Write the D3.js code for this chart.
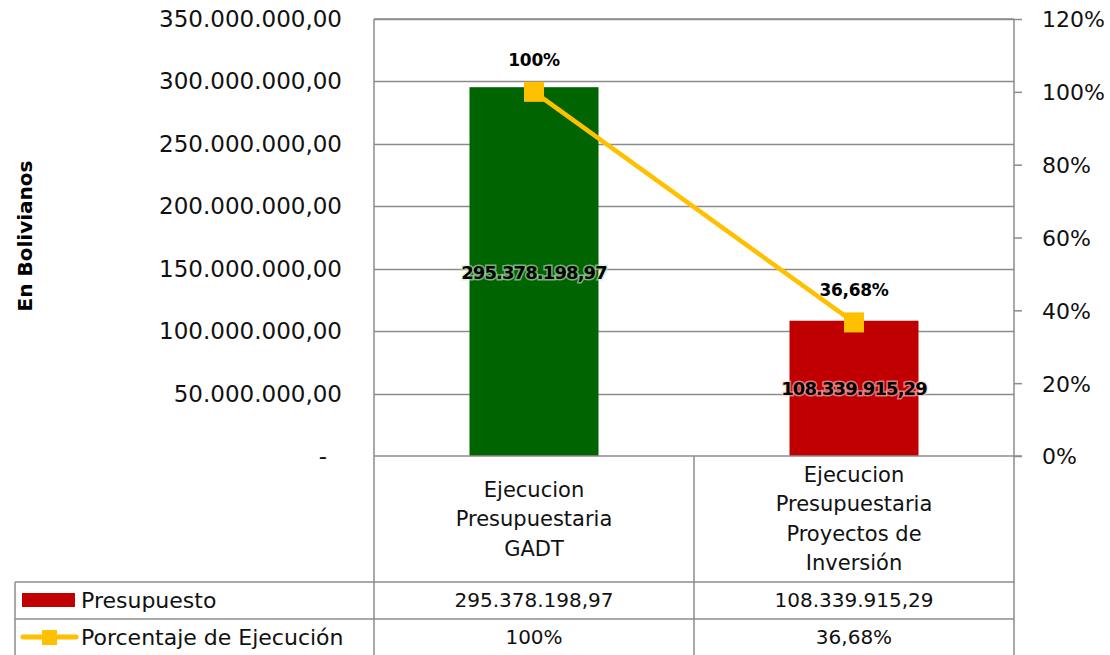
<!DOCTYPE html>
<html><head><meta charset="utf-8">
<script src="https://cdn.jsdelivr.net/npm/d3@7"></script>
<style>body{margin:0;background:#fff}svg{display:block}text{font-family:"DejaVu Sans",sans-serif}</style>
</head><body><svg id="c" width="1110" height="655"></svg>
<script>
const categories = [["Ejecucion","Presupuestaria","GADT"],["Ejecucion","Presupuestaria","Proyectos de","Inversión"]];
const presupuesto = [295378198.97, 108339915.29];
const presupuestoLabels = ["295.378.198,97","108.339.915,29"];
const porcentaje = [100, 36.68];
const porcentajeLabels = ["100%","36,68%"];
const leftTicks = [0,50e6,100e6,150e6,200e6,250e6,300e6,350e6];
const leftTickLabels = ["-","50.000.000,00","100.000.000,00","150.000.000,00","200.000.000,00","250.000.000,00","300.000.000,00","350.000.000,00"];
const rightTicks = [0,20,40,60,80,100,120];
const seriesNames = ["Presupuesto","Porcentaje de Ejecución"];
const barColors = ["#006400","#C00000"];
const lineColor = "#FFC000";

const svg = d3.select("#c");
const L=374, R=1014, T=19, B=456;
const grid = "#8c8c8c";
const xc = i => L + (R-L)/categories.length*(i+0.5);
const y = d3.scaleLinear().domain([0,350e6]).range([B,T]);
const y2 = d3.scaleLinear().domain([0,120]).range([B,T]);
const bw = 129;

// gridlines
svg.append("g").selectAll("line").data(leftTicks.slice(1)).join("line")
  .attr("x1",L).attr("x2",R).attr("y1",d=>Math.round(y(d))+0.5).attr("y2",d=>Math.round(y(d))+0.5)
  .attr("stroke",grid).attr("stroke-width",1.5);

// left axis labels
svg.append("g").selectAll("text").data(leftTicks).join("text")
  .attr("x",(d,i)=>i===0?327:342).attr("y",d=>y(d)+8).attr("text-anchor","end").attr("font-size",23).attr("fill","#111")
  .text((d,i)=>leftTickLabels[i]);

// right axis
const ra = svg.append("g").attr("transform",`translate(${R},0)`)
  .call(d3.axisRight(y2).tickValues(rightTicks).tickFormat(d=>d+"%").tickSize(8).tickPadding(20));
ra.select(".domain").attr("stroke",grid).attr("stroke-width",1.5).attr("d",`M0,${T}V${B}`);
ra.selectAll(".tick line").attr("stroke",grid).attr("stroke-width",1.5);
ra.selectAll(".tick text").attr("font-size",22).attr("fill","#111").attr("font-family","DejaVu Sans").attr("dy","0.36em");

// bars
svg.append("g").selectAll("rect").data(presupuesto).join("rect")
  .attr("x",(d,i)=>xc(i)-bw/2).attr("width",bw)
  .attr("y",d=>y(d)).attr("height",d=>B-y(d)).attr("fill",(d,i)=>barColors[i]);

// table lines
const tl = svg.append("g").attr("stroke",grid).attr("stroke-width",1.5).attr("fill","none");
tl.append("line").attr("x1",L).attr("x2",L).attr("y1",T).attr("y2",655);
tl.append("line").attr("x1",L).attr("x2",R).attr("y1",T).attr("y2",T);
tl.append("line").attr("x1",L).attr("x2",R+8).attr("y1",B).attr("y2",B);
tl.append("line").attr("x1",(L+R)/2).attr("x2",(L+R)/2).attr("y1",B).attr("y2",655);
tl.append("line").attr("x1",R).attr("x2",R).attr("y1",B).attr("y2",655);
tl.append("line").attr("x1",15).attr("x2",R).attr("y1",582).attr("y2",582);
tl.append("line").attr("x1",15).attr("x2",R).attr("y1",619).attr("y2",619);
tl.append("line").attr("x1",15).attr("x2",15).attr("y1",582).attr("y2",655);

// bar value labels with halo
svg.append("g").selectAll("text").data(presupuesto).join("text")
  .attr("x",(d,i)=>xc(i)).attr("y",d=>(y(d)+B)/2+7).attr("text-anchor","middle")
  .attr("font-size",18).attr("font-weight","bold").attr("fill","#000")
  .attr("stroke",(d,i)=>i===0?"rgba(200,230,200,0.6)":"rgba(250,200,200,0.6)").attr("stroke-width",3).attr("paint-order","stroke")
  .attr("letter-spacing",-0.9)
  .text((d,i)=>presupuestoLabels[i]);

// line
svg.append("path").datum(porcentaje)
  .attr("d",d3.line().x((d,i)=>xc(i)).y(d=>y2(d)))
  .attr("fill","none").attr("stroke",lineColor).attr("stroke-width",4.5);
svg.append("g").selectAll("rect").data(porcentaje).join("rect")
  .attr("x",(d,i)=>xc(i)-10).attr("y",d=>y2(d)-10).attr("width",20).attr("height",20).attr("fill",lineColor);
svg.append("g").selectAll("text").data(porcentaje).join("text")
  .attr("x",(d,i)=>xc(i)).attr("y",d=>y2(d)-26).attr("text-anchor","middle")
  .attr("font-size",17).attr("font-weight","bold").attr("fill","#000").attr("letter-spacing",-0.3)
  .text((d,i)=>porcentajeLabels[i]);

// category labels
categories.forEach((lines,i)=>{
  const n=lines.length, lh=29.5, cy=(B+582)/2;
  const t = svg.append("text").attr("text-anchor","middle").attr("font-size",21).attr("fill","#111");
  lines.forEach((s,j)=>t.append("tspan").attr("x",xc(i)).attr("y",cy-(n-1)*lh/2+j*lh+7).text(s));
});

// y title
svg.append("text").attr("transform","translate(32,236) rotate(-90)").attr("text-anchor","middle")
  .attr("font-size",20).attr("font-weight","bold").attr("fill","#000").text("En Bolivianos");

// table rows
const rows=[{y:600, vals:presupuestoLabels},{y:637, vals:porcentajeLabels}];
rows.forEach((r,k)=>{
  r.vals.forEach((v,i)=>svg.append("text").attr("x",xc(i)).attr("y",r.y+7).attr("text-anchor","middle")
    .attr("font-size",20).attr("fill","#111").text(v));
  svg.append("text").attr("x",81).attr("y",r.y+8).attr("font-size",22).attr("fill","#111").text(seriesNames[k]);
});
svg.append("rect").attr("x",22).attr("y",593).attr("width",53).attr("height",14).attr("fill",barColors[1]);
svg.append("line").attr("x1",23).attr("x2",76).attr("y1",637).attr("y2",637).attr("stroke",lineColor).attr("stroke-width",5).attr("stroke-linecap","round");
svg.append("rect").attr("x",42).attr("y",630).attr("width",15).attr("height",15).attr("fill",lineColor);
</script></body></html>
